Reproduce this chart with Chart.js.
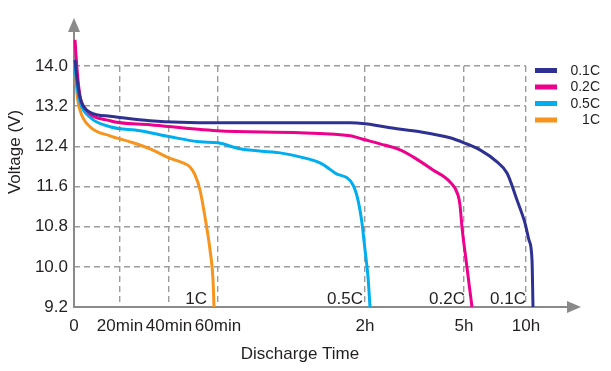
<!DOCTYPE html>
<html>
<head>
<meta charset="utf-8">
<script src="https://cdn.jsdelivr.net/npm/chart.js@4.4.1/dist/chart.umd.min.js"></script>
<style>
  html, body { margin: 0; padding: 0; background: #fff; }
  canvas { display: block; }
</style>
</head>
<body>
<canvas id="chart" width="611" height="371"></canvas>
<script>
// ---------------------------------------------------------------
// data
// x is in "axis units": the time axis is not linear, each tick sits
// at its own place, so the curves use the same units as the ticks
// ---------------------------------------------------------------
const timeTicks  = [0, 46, 95, 144, 291, 390, 452];
const timeLabels = ['0', '20min', '40min', '60min', '2h', '5h', '10h'];
const voltTicks  = [9.2, 10.0, 10.8, 11.6, 12.4, 13.2, 14.0];

const seriesNames  = ['0.1C', '0.2C', '0.5C', '1C'];
const seriesColors = ['#2E3192', '#EC008C', '#00AEEF', '#F7941D'];

const c01Time = [1, 3, 6, 16, 36, 76, 143, 276, 291, 316, 346, 376, 390, 406, 423, 433, 443, 451, 455, 458, 459];
const c01Volt = [14.12, 13.75, 13.38, 13.08, 13.00, 12.91, 12.87, 12.87, 12.85, 12.77, 12.69, 12.57, 12.47, 12.33, 12.09, 11.87, 11.33, 10.87, 10.53, 10.14, 9.2];

const c02Time = [1, 3, 6, 11, 36, 76, 143, 226, 276, 291, 306, 326, 339, 359, 376, 384, 386, 388, 392, 398];
const c02Volt = [14.52, 13.95, 13.40, 13.16, 12.91, 12.83, 12.71, 12.67, 12.61, 12.53, 12.45, 12.33, 12.19, 11.93, 11.69, 11.43, 11.23, 10.79, 10.14, 9.2];

const c05Time = [1, 3, 6, 16, 36, 66, 96, 126, 144, 166, 206, 226, 246, 261, 279, 284, 288, 291, 294, 296];
const c05Volt = [14.0, 13.6, 13.28, 12.98, 12.79, 12.71, 12.59, 12.49, 12.47, 12.35, 12.27, 12.19, 12.07, 11.87, 11.63, 11.33, 10.87, 10.34, 9.80, 9.2];

const c1Time = [1, 3, 6, 16, 36, 56, 76, 95, 109, 116, 121, 126, 131, 136, 139, 140];
const c1Volt = [14.08, 13.45, 13.12, 12.79, 12.61, 12.49, 12.35, 12.17, 12.07, 11.99, 11.83, 11.53, 10.99, 10.34, 9.74, 9.2];

const curveTimes = [c01Time, c02Time, c05Time, c1Time];
const curveVolts = [c01Volt, c02Volt, c05Volt, c1Volt];

const FONT = "'Liberation Sans', Arial, sans-serif";
const TEXT = '#231f20';
const AXIS = '#8a8a8a';
const GRID = '#9c9c9c';

// ---------------------------------------------------------------
// axes with arrows, legend, end labels and y title
// ---------------------------------------------------------------
const decorPlugin = {
    id: 'decor',
    beforeDatasetsDraw(chart) {
        const { ctx, chartArea: a } = chart;
        ctx.save();
        ctx.strokeStyle = AXIS;
        ctx.fillStyle = AXIS;
        ctx.lineWidth = 2;

        // x axis + arrow
        ctx.beginPath();
        ctx.moveTo(a.left, a.bottom);
        ctx.lineTo(a.right + 42, a.bottom);
        ctx.stroke();
        ctx.beginPath();
        ctx.moveTo(a.right + 55, a.bottom);
        ctx.lineTo(a.right + 41, a.bottom - 6);
        ctx.lineTo(a.right + 41, a.bottom + 6);
        ctx.closePath();
        ctx.fill();

        // y axis + arrow
        ctx.beginPath();
        ctx.moveTo(a.left, a.bottom + 1);
        ctx.lineTo(a.left, a.top - 34);
        ctx.stroke();
        ctx.beginPath();
        ctx.moveTo(a.left, a.top - 48);
        ctx.lineTo(a.left - 6, a.top - 34);
        ctx.lineTo(a.left + 6, a.top - 34);
        ctx.closePath();
        ctx.fill();
        ctx.restore();
    },
    afterDraw(chart) {
        const { ctx, chartArea: a } = chart;
        const xs = chart.scales.x;
        ctx.save();

        // y title
        ctx.fillStyle = TEXT;
        ctx.font = '17px ' + FONT;
        ctx.textAlign = 'center';
        ctx.textBaseline = 'middle';
        ctx.translate(15, 152);
        ctx.rotate(-Math.PI / 2);
        ctx.fillText('Voltage (V)', 0, 0);
        ctx.setTransform(1, 0, 0, 1, 0, 0);

        // labels at the end of each curve
        ctx.font = '17px ' + FONT;
        ctx.textAlign = 'right';
        ctx.textBaseline = 'alphabetic';
        seriesNames.forEach((name, i) => {
            const t = curveTimes[i];
            const px = xs.getPixelForValue(t[t.length - 1]);
            ctx.fillText(name, px - 7, a.bottom - 3);
        });

        // legend
        ctx.font = '14px ' + FONT;
        ctx.textBaseline = 'middle';
        seriesNames.forEach((name, i) => {
            const y = 70 + i * 16.5;
            ctx.fillStyle = seriesColors[i];
            ctx.fillRect(535, y - 2, 22, 5);
            ctx.fillStyle = TEXT;
            ctx.fillText(name, 600, y + 1);
        });
        ctx.restore();
    }
};

const datasets = seriesNames.map((name, i) => ({
    label: name,
    data: curveTimes[i].map((t, k) => ({ x: t, y: curveVolts[i][k] })),
    borderColor: seriesColors[i],
    borderWidth: 3,
    pointRadius: 0,
    cubicInterpolationMode: 'monotone',
    clip: false
}));

const gridColor = c => (c.index === 0 ? 'rgba(0,0,0,0)' : GRID);

new Chart(document.getElementById('chart'), {
    type: 'line',
    data: { datasets },
    plugins: [decorPlugin],
    options: {
        responsive: false,
        animation: false,
        layout: { padding: { top: 66, right: 85, bottom: 0, left: 0 } },
        plugins: { legend: { display: false }, tooltip: { enabled: false } },
        scales: {
            x: {
                type: 'linear',
                bounds: 'data',
                // range set here (not via min/max) so the 0.1C tail past 10h is still drawn
                afterDataLimits: s => { s.min = timeTicks[0]; s.max = timeTicks[timeTicks.length - 1]; },
                afterBuildTicks: s => { s.ticks = timeTicks.map(v => ({ value: v })); },
                afterFit: s => { s.height = 64; },
                ticks: {
                    autoSkip: false, maxRotation: 0, padding: 9,
                    color: TEXT, font: { family: FONT, size: 17 },
                    callback: (v, i) => timeLabels[i]
                },
                grid: { color: gridColor, lineWidth: 1.4, drawTicks: false },
                border: { display: false, dash: [6, 4] },
                title: {
                    display: true, text: 'Discharge Time', color: TEXT,
                    font: { family: FONT, size: 17 }, padding: { top: 0, bottom: 6 }
                }
            },
            y: {
                min: voltTicks[0],
                max: voltTicks[voltTicks.length - 1],
                afterBuildTicks: s => { s.ticks = voltTicks.map(v => ({ value: v })); },
                afterFit: s => { s.width = 74; },
                ticks: {
                    padding: 6, color: TEXT, font: { family: FONT, size: 17 },
                    callback: v => Number(v).toFixed(1)
                },
                grid: { color: gridColor, lineWidth: 1.4, drawTicks: false },
                border: { display: false, dash: [6, 4] }
            }
        }
    }
});
</script>
</body>
</html>
